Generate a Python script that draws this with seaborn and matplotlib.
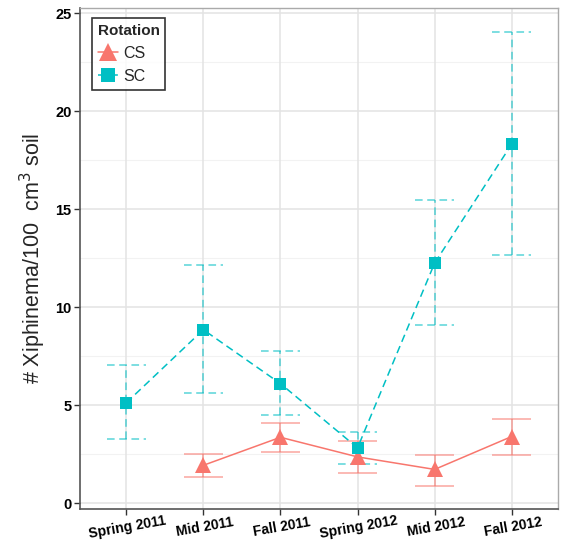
import numpy as np
import pandas as pd
import seaborn as sns
import matplotlib
matplotlib.use("Agg")
import matplotlib.pyplot as plt
from matplotlib.lines import Line2D

categories = ["Spring 2011", "Mid 2011", "Fall 2011", "Spring 2012", "Mid 2012", "Fall 2012"]

sc_periods = ["Spring 2011", "Mid 2011", "Fall 2011", "Spring 2012", "Mid 2012", "Fall 2012"]
sc_mean = [5.12, 8.85, 6.10, 2.82, 12.25, 18.32]
sc_low = [3.25, 5.63, 4.52, 2.00, 9.10, 12.68]
sc_high = [7.05, 12.15, 7.75, 3.63, 15.47, 24.02]

cs_periods = ["Mid 2011", "Fall 2011", "Spring 2012", "Mid 2012", "Fall 2012"]
cs_mean = [1.93, 3.36, 2.36, 1.72, 3.40]
cs_low = [1.32, 2.60, 1.54, 0.87, 2.46]
cs_high = [2.49, 4.08, 3.16, 2.44, 4.28]

colors = {"CS": "#F8766D", "SC": "#00BFC4"}

sns.set_theme(style="white")
plt.rcParams["font.family"] = ["Liberation Sans", "DejaVu Sans"]

rows = []
for rot, per, m, lo, hi in [("SC", sc_periods, sc_mean, sc_low, sc_high),
                            ("CS", cs_periods, cs_mean, cs_low, cs_high)]:
    for p, a, b, c in zip(per, m, lo, hi):
        rows.append({"Rotation": rot, "Period": p, "pos": categories.index(p),
                     "mean": a, "low": b, "high": c})
df = pd.DataFrame(rows)

fig = plt.figure(figsize=(5.61, 5.43), dpi=100)
ax = fig.add_axes([0.1426, 0.0626, 0.852, 0.922])

# grid
ax.set_axisbelow(True)
for v in [2.5, 7.5, 12.5, 17.5, 22.5]:
    ax.axhline(v, color="#f2f2f2", lw=0.8, zorder=0)
for v in [0, 5, 10, 15, 20, 25]:
    ax.axhline(v, color="#e3e3e3", lw=1.1, zorder=0)
for v in range(len(categories)):
    ax.axvline(v, color="#e3e3e3", lw=1.1, zorder=0)

dash_pat = (5, 3)
cap = 0.25
for rot, ls in [("CS", "-"), ("SC", (0, dash_pat))]:
    d = df[df.Rotation == rot]
    col = colors[rot]
    ax.vlines(d["pos"], d["low"], d["high"], colors=col, alpha=0.65, lw=1.1,
              linestyles=[ls], zorder=2)
    ax.hlines(d["low"], d["pos"] - cap, d["pos"] + cap, colors=col, alpha=0.65,
              lw=1.1, linestyles=[ls], zorder=2)
    ax.hlines(d["high"], d["pos"] - cap, d["pos"] + cap, colors=col, alpha=0.65,
              lw=1.1, linestyles=[ls], zorder=2)

sns.lineplot(data=df, x="pos", y="mean", hue="Rotation", style="Rotation",
             hue_order=["CS", "SC"], style_order=["CS", "SC"],
             palette=colors, markers={"CS": "^", "SC": "s"},
             dashes={"CS": "", "SC": dash_pat}, markeredgewidth=0,
             lw=1.1, ax=ax, legend=False, zorder=3,
             estimator=None, sort=True)
for ln in ax.get_lines():
    if ln.get_marker() == "^":
        ln.set_markersize(12)
    elif ln.get_marker() == "s":
        ln.set_markersize(9)

ax.set_xlim(-0.6, 5.6)
ax.set_ylim(-0.3, 25.25)
ax.set_xticks(range(len(categories)))
ax.set_xticklabels(categories, rotation=10, fontweight="bold", fontsize=10,
                   color="black", ha="center", rotation_mode="anchor",
                   va="top")
ax.set_yticks([0, 5, 10, 15, 20, 25])
ax.set_yticklabels(["0", "5", "10", "15", "20", "25"], fontweight="bold",
                   fontsize=10.5, color="black")
ax.tick_params(axis="y", length=4, width=1, color="#333333", pad=2, left=True)
ax.tick_params(axis="x", length=4, width=1, color="#333333", pad=4, bottom=True)
ax.set_xlabel("")
ax.set_ylabel("# Xiphinema/100  cm$^3$ soil", fontsize=15.5, labelpad=5)

for side in ["top", "right"]:
    ax.spines[side].set_color("#aaaaaa")
    ax.spines[side].set_linewidth(1)
for side in ["left", "bottom"]:
    ax.spines[side].set_color("#555555")
    ax.spines[side].set_linewidth(1.2)

handles = [
    Line2D([], [], color=colors["CS"], marker="^", markersize=13, lw=1.1,
           markeredgewidth=0),
    Line2D([], [], color=colors["SC"], marker="s", markersize=10, lw=1.1,
           linestyle=(0, (3, 2)), markeredgewidth=0),
]
leg = ax.legend(handles, ["CS", "SC"], title="Rotation", loc="upper left",
                bbox_to_anchor=(0.025, 0.98), borderaxespad=0, frameon=True,
                fancybox=False, fontsize=11.5, handlelength=1.3,
                handletextpad=0.3, borderpad=0.35, labelspacing=0.5)
leg.get_title().set_fontweight("bold")
leg.get_title().set_fontsize(11)
leg._legend_box.align = "left"
leg.get_frame().set_edgecolor("black")
leg.get_frame().set_linewidth(1.2)

fig.savefig("out.png", dpi=100)
